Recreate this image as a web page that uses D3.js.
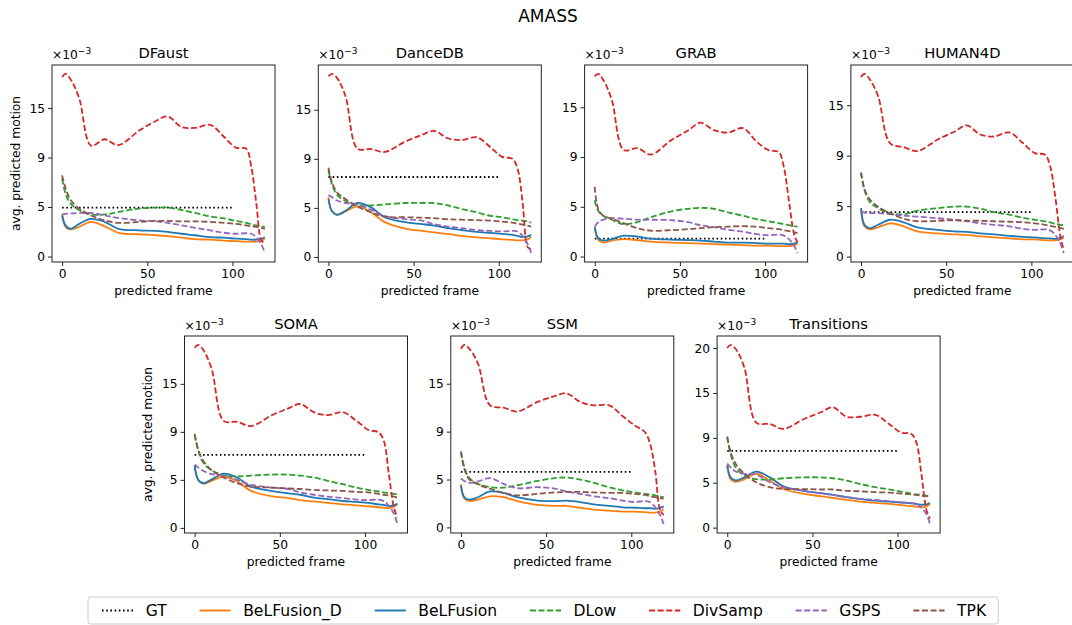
<!DOCTYPE html>
<html>
<head>
<meta charset="utf-8">
<script src="https://cdn.jsdelivr.net/npm/d3@7"></script>
<style>
  body { margin: 0; background: #fff; }
  text { font-family: "DejaVu Sans", sans-serif; fill: #000; }
</style>
</head>
<body>
<script>
// panels in plot order, values in units of 1e-3
var panels = ["DFaust", "DanceDB", "GRAB", "HUMAN4D", "SOMA", "SSM", "Transitions"];
var frames = [0, 2, 5, 10, 17, 25, 33, 45, 55, 62, 70, 78, 87, 95, 102, 108, 111, 114, 117, 119];
var gtFrames = [0, 100];
var xTicks = [0, 50, 100];
var yTickValues = [0, 5, 10, 15, 20];
var yTickLabels = ["0", "5", "9", "15", "20"];

var GT = [4.95, 8.15, 1.8, 4.4, 7.6, 5.8, 8.55];

var BeLFusion_D = [
  [4.25,3.0,2.75,3.0,3.5,3.05,2.4,2.25,2.15,2.05,1.9,1.75,1.7,1.6,1.55,1.5,1.5,1.5,1.6,1.8],
  [6.1,4.65,4.3,4.65,5.15,4.55,3.55,2.9,2.65,2.5,2.35,2.15,2.0,1.9,1.8,1.75,1.7,1.7,1.8,2.05],
  [2.85,1.7,1.4,1.6,1.75,1.65,1.5,1.4,1.35,1.3,1.25,1.2,1.15,1.1,1.1,1.05,1.05,1.05,1.15,1.3],
  [4.65,3.0,2.7,2.9,3.3,3.0,2.5,2.3,2.2,2.15,2.0,1.9,1.8,1.7,1.7,1.6,1.6,1.6,1.7,1.9],
  [6.55,5.0,4.6,4.9,5.35,4.85,3.85,3.3,3.1,2.9,2.75,2.6,2.45,2.35,2.25,2.15,2.1,2.05,2.2,2.45],
  [4.5,3.0,2.75,2.9,3.25,3.15,2.75,2.35,2.25,2.25,2.05,1.85,1.75,1.65,1.65,1.6,1.55,1.55,1.65,1.9],
  [7.0,5.4,5.1,5.4,6.0,5.25,4.3,3.75,3.5,3.3,3.1,2.9,2.75,2.65,2.5,2.4,2.35,2.25,2.35,2.65]
];
var BeLFusion = [
  [4.15,3.15,2.8,3.3,3.8,3.5,2.8,2.65,2.6,2.5,2.3,2.15,1.95,1.9,1.8,1.75,1.7,1.7,1.8,1.95],
  [5.9,4.7,4.3,4.7,5.5,5.05,4.05,3.55,3.35,3.2,2.95,2.75,2.55,2.45,2.35,2.25,2.15,2.05,2.1,2.25],
  [2.95,1.85,1.6,1.75,2.1,2.0,1.8,1.7,1.65,1.6,1.5,1.4,1.4,1.35,1.3,1.3,1.3,1.25,1.3,1.45],
  [4.8,3.15,2.8,3.15,3.65,3.4,2.9,2.65,2.5,2.45,2.3,2.2,2.05,1.95,1.9,1.8,1.8,1.75,1.85,2.05],
  [6.45,5.05,4.65,5.05,5.65,5.25,4.3,3.85,3.6,3.45,3.15,3.0,2.8,2.7,2.6,2.45,2.4,2.3,2.35,2.55],
  [4.4,3.15,2.9,3.15,3.75,3.6,3.15,2.8,2.75,2.8,2.65,2.4,2.25,2.1,2.05,2.0,2.0,1.95,2.05,2.2],
  [6.9,5.6,5.25,5.6,6.25,5.6,4.6,4.1,3.85,3.65,3.4,3.2,3.0,2.9,2.8,2.7,2.65,2.55,2.6,2.75]
];
var DLow = [
  [7.9,6.35,5.35,4.7,4.25,4.25,4.5,4.85,4.95,4.95,4.7,4.4,4.05,3.85,3.6,3.4,3.25,3.15,3.05,3.0],
  [8.85,7.45,6.35,5.7,5.3,5.25,5.35,5.5,5.5,5.5,5.25,4.9,4.55,4.2,4.05,3.85,3.75,3.7,3.6,3.5],
  [5.65,4.6,4.1,3.7,3.25,3.45,3.95,4.55,4.8,4.9,4.8,4.45,4.1,3.75,3.55,3.35,3.25,3.15,3.05,3.0],
  [8.3,6.6,5.45,4.8,4.3,4.2,4.55,4.8,4.95,4.95,4.75,4.4,4.15,3.85,3.65,3.5,3.4,3.25,3.15,3.1],
  [9.8,8.2,6.8,6.0,5.5,5.35,5.45,5.55,5.55,5.45,5.25,4.9,4.55,4.2,3.95,3.8,3.7,3.6,3.55,3.5],
  [7.85,6.3,5.15,4.55,4.2,4.15,4.4,4.85,5.15,5.2,5.0,4.65,4.2,3.85,3.65,3.5,3.45,3.35,3.25,3.15],
  [10.05,8.2,6.7,5.8,5.4,5.35,5.5,5.6,5.6,5.5,5.25,4.85,4.5,4.25,4.0,3.8,3.7,3.65,3.55,3.5]
];
var DivSamp = [
  [18.15,18.45,17.9,16.0,11.2,11.85,11.25,12.7,13.7,14.15,13.1,13.0,13.3,12.1,11.0,10.9,9.1,5.35,1.6,1.4],
  [18.4,18.65,18.25,16.4,11.05,11.0,10.7,11.75,12.45,12.85,12.1,11.9,12.2,11.2,10.2,10.0,9.0,5.5,1.0,0.8],
  [18.1,18.35,17.75,15.75,10.7,10.9,10.25,11.7,12.7,13.45,12.7,12.45,12.9,11.55,10.7,10.5,9.0,5.6,2.25,1.4],
  [17.8,18.1,17.6,15.9,11.25,10.85,10.45,11.6,12.4,13.0,12.1,11.9,12.3,11.25,10.25,10.1,8.95,5.95,2.0,0.65],
  [18.75,19.05,18.55,16.55,11.15,11.05,10.6,11.7,12.45,12.9,12.05,11.75,12.05,11.15,10.2,9.95,9.1,5.6,2.1,1.1],
  [18.65,19.05,18.65,17.1,12.75,12.5,12.1,13.1,13.7,14.0,13.1,12.75,12.75,11.6,10.65,9.95,8.75,5.95,1.75,1.3],
  [20.0,20.35,19.9,17.85,11.7,11.55,11.0,12.1,12.85,13.4,12.35,12.35,12.55,11.55,10.6,10.45,9.5,5.95,1.9,1.0]
];
var GSPS = [
  [4.25,4.3,4.35,4.4,4.4,4.15,3.9,3.65,3.55,3.4,3.15,2.9,2.65,2.4,2.3,2.35,2.3,1.95,1.2,0.35],
  [6.3,6.1,5.75,5.5,5.35,4.8,4.2,3.85,3.7,3.35,3.1,2.95,2.75,2.65,2.6,2.65,2.6,2.15,1.3,0.4],
  [3.0,3.45,3.7,3.85,3.8,3.7,3.7,3.65,3.45,3.15,2.95,2.7,2.5,2.25,2.15,2.2,2.1,1.75,1.1,0.35],
  [4.45,4.35,4.3,4.3,4.2,4.05,3.95,3.8,3.65,3.5,3.3,3.15,3.0,2.75,2.65,2.7,2.6,2.15,1.3,0.35],
  [6.6,6.3,5.95,5.6,5.5,5.0,4.5,4.2,4.05,3.7,3.45,3.25,3.1,2.95,2.9,2.95,2.8,2.3,1.45,0.4],
  [5.1,4.85,4.65,4.8,5.15,4.55,4.1,4.2,4.05,3.75,3.5,3.25,3.05,2.8,2.65,2.75,2.65,2.1,1.25,0.35],
  [7.15,6.7,6.25,6.0,5.9,5.05,4.5,4.1,3.8,3.65,3.4,3.2,3.1,2.95,2.8,2.75,2.65,2.25,1.45,0.4]
];
var TPK = [
  [8.2,6.9,5.7,4.85,4.15,3.65,3.4,3.5,3.6,3.6,3.55,3.55,3.5,3.4,3.3,3.15,3.05,3.0,2.9,2.8],
  [9.1,7.65,6.6,5.9,5.15,4.55,4.1,4.05,4.0,3.95,3.85,3.8,3.75,3.7,3.6,3.5,3.4,3.3,3.2,3.1],
  [7.0,4.8,4.1,3.8,3.35,2.85,2.6,2.65,2.75,2.85,2.95,3.0,3.05,3.0,2.85,2.75,2.65,2.55,2.45,2.35],
  [8.35,6.7,5.7,4.95,4.3,3.75,3.5,3.55,3.6,3.55,3.55,3.5,3.45,3.4,3.3,3.15,3.05,2.95,2.85,2.75],
  [9.7,8.2,7.0,6.0,5.25,4.65,4.3,4.2,4.1,4.05,3.95,3.9,3.85,3.75,3.7,3.55,3.45,3.35,3.25,3.15],
  [7.95,6.1,5.0,4.5,4.05,3.6,3.35,3.5,3.65,3.7,3.7,3.65,3.6,3.6,3.5,3.4,3.25,3.15,3.05,3.0],
  [10.15,8.4,7.1,6.0,5.05,4.5,4.3,4.3,4.25,4.25,4.1,4.05,3.95,3.9,3.8,3.7,3.65,3.55,3.5,3.4]
];

var methods = ["GT", "BeLFusion_D", "BeLFusion", "DLow", "DivSamp", "GSPS", "TPK"];
var series = [null, BeLFusion_D, BeLFusion, DLow, DivSamp, GSPS, TPK];
var colors = ["#000000", "#ff7f0e", "#1f77b4", "#2ca02c", "#d62728", "#9467bd", "#8c564b"];
var dashes = ["1.6,2.6", null, null, "6,2.6", "6,2.6", "6,2.6", "6,2.6"];

var W = 1072, H = 625;
var pw = 223, ph = 197, step = 266.3;

var svg = d3.select("body").append("svg")
  .attr("width", W).attr("height", H);

svg.append("text")
  .attr("x", 548).attr("y", 22)
  .attr("text-anchor", "middle")
  .attr("font-size", "17px")
  .text("AMASS");

function pos(i) {
  if (i < 4) return [52 + i * step, 65];
  return [184.5 + (i - 4) * step, 336];
}

var line = d3.line().curve(d3.curveCatmullRom.alpha(0.5));

panels.forEach(function(name, pi) {
  var p = pos(pi);
  var g = svg.append("g").attr("transform", "translate(" + p[0] + "," + p[1] + ")");

  var all = [GT[pi]];
  series.forEach(function(s) { if (s) all = all.concat(s[pi]); });
  var lo = d3.min(all), hi = d3.max(all), pad = (hi - lo) * 0.05;

  var x = d3.scaleLinear().domain([-5.95, 124.95]).range([0, pw]);
  var y = d3.scaleLinear().domain([lo - pad, hi + pad]).range([ph, 0]);

  var yt = yTickValues.filter(function(v) { return v <= hi + pad; });

  var xa = g.append("g").attr("transform", "translate(0," + ph + ")")
    .call(d3.axisBottom(x).tickValues(xTicks).tickSize(4).tickPadding(3).tickSizeOuter(0));
  var ya = g.append("g")
    .call(d3.axisLeft(y).tickValues(yt).tickSize(4).tickPadding(3).tickSizeOuter(0)
      .tickFormat(function(v) { return yTickLabels[yTickValues.indexOf(v)]; }));
  [xa, ya].forEach(function(a) {
    a.select(".domain").remove();
    a.selectAll("line").attr("stroke", "#222").attr("stroke-width", 1);
    a.selectAll("text").attr("font-size", "12.25px").attr("font-family", "DejaVu Sans").attr("fill", "#000");
  });

  // lines
  methods.forEach(function(m, mi) {
    var pts;
    if (m === "GT") {
      pts = gtFrames.map(function(f) { return [x(f), y(GT[pi])]; });
    } else {
      pts = frames.map(function(f, k) { return [x(f), y(series[mi][pi][k])]; });
    }
    g.append("path")
      .attr("d", m === "GT" ? d3.line()(pts) : line(pts))
      .attr("fill", "none")
      .attr("stroke", colors[mi])
      .attr("stroke-width", 1.8)
      .attr("stroke-dasharray", dashes[mi]);
  });

  g.append("rect")
    .attr("width", pw).attr("height", ph)
    .attr("fill", "none").attr("stroke", "#222").attr("stroke-width", 1);

  g.append("text")
    .attr("x", pw / 2).attr("y", -7)
    .attr("text-anchor", "middle")
    .attr("font-size", "14.7px")
    .text(name);

  var off = g.append("text").attr("x", 0).attr("y", -6).attr("font-size", "12.25px");
  off.append("tspan").text("\u00d710");
  off.append("tspan").attr("dy", -5).attr("font-size", "9px").text("\u22123");

  g.append("text")
    .attr("x", pw / 2).attr("y", ph + 33)
    .attr("text-anchor", "middle")
    .attr("font-size", "12.25px")
    .text("predicted frame");

  if (pi === 0 || pi === 4) {
    g.append("text")
      .attr("transform", "translate(-32.5," + (ph / 2) + ") rotate(-90)")
      .attr("text-anchor", "middle")
      .attr("font-size", "12.25px")
      .text("avg. predicted motion");
  }
});

// legend
var fs = 15.6;
var lg = svg.append("g");
var box = lg.append("rect")
  .attr("y", 597).attr("height", 27).attr("rx", 3)
  .attr("fill", "#fff").attr("fill-opacity", 0.8)
  .attr("stroke", "#ccc").attr("stroke-width", 1);
var cx = 102;
methods.forEach(function(m, mi) {
  lg.append("line")
    .attr("x1", cx).attr("x2", cx + 2 * fs)
    .attr("y1", 610.5).attr("y2", 610.5)
    .attr("stroke", colors[mi]).attr("stroke-width", 1.9)
    .attr("stroke-dasharray", dashes[mi]);
  var t = lg.append("text")
    .attr("x", cx + 2.8 * fs).attr("y", 610.5)
    .attr("dominant-baseline", "central")
    .attr("font-size", fs + "px")
    .text(m);
  cx = cx + 2.8 * fs + t.node().getComputedTextLength() + 2.1 * fs;
});
box.attr("x", 88).attr("width", cx - 2.1 * fs + 12 - 88);
</script>
</body>
</html>
